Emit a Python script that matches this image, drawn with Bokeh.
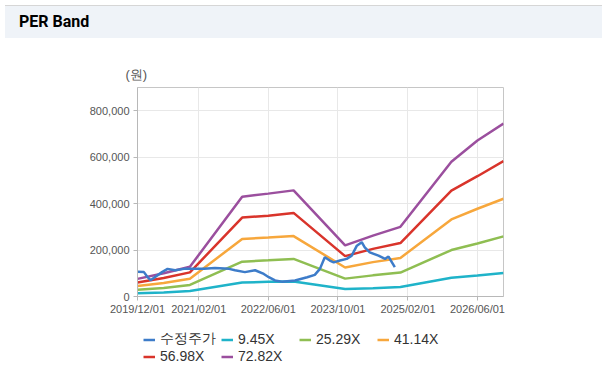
import pandas as pd
from bokeh.plotting import figure
from bokeh.models import (Div, Legend, LegendItem, FixedTicker,
                          NumeralTickFormatter, Range1d, Title)
from bokeh.layouts import column
from bokeh.embed import file_html
from bokeh.resources import INLINE

# ---------------- data ----------------
band_dates = ["2019-12-01", "2020-06-01", "2020-12-01", "2021-12-01", "2022-06-01",
              "2022-11-25", "2023-11-20", "2024-06-01", "2024-12-10", "2025-12-01",
              "2026-06-01", "2026-11-30"]
per_72_82 = [76000, 100000, 128000, 430000, 443000, 457000, 220000, 262000, 300000, 580000, 672000, 745000]
per_56_98 = [60000, 80000, 104000, 340000, 348000, 360000, 174000, 205000, 230000, 456000, 518000, 583000]
per_41_14 = [45000, 58000, 76000, 248000, 254000, 260000, 125000, 148000, 166000, 332000, 378000, 421000]
per_25_29 = [29000, 37000, 50000, 150000, 156000, 162000, 77000, 91000, 103000, 200000, 228000, 259000]
per_9_45 = [14000, 17000, 24000, 60000, 63000, 65000, 32000, 36000, 41000, 81000, 90000, 101000]

price_dates = ["2019-12-01", "2020-01-15", "2020-02-10", "2020-03-01", "2020-05-20", "2020-06-28",
               "2020-08-20", "2020-10-20", "2021-03-10", "2021-05-25", "2021-09-01", "2021-10-12",
               "2021-12-20", "2022-03-01", "2022-05-01", "2022-06-05", "2022-07-18", "2022-09-05",
               "2022-12-05", "2023-02-28", "2023-04-22", "2023-05-28", "2023-07-01", "2023-08-05",
               "2023-09-01", "2023-10-15", "2023-12-01", "2024-01-05", "2024-02-10", "2024-03-15",
               "2024-04-05", "2024-05-10", "2024-07-10", "2024-08-25", "2024-09-18", "2024-10-12",
               "2024-11-01"]
price_vals = [107000, 105000, 83000, 70000, 105000, 119000, 113000, 119000, 119000, 123000, 119000,
              113000, 105000, 113000, 97000, 83000, 69000, 64000, 69000, 83000, 93000, 119000,
              169000, 155000, 147000, 155000, 162000, 176000, 219000, 234000, 212000, 190000,
              176000, 162000, 172000, 147000, 126000]

series_names = ["수정주가", "9.45X", "25.29X", "41.14X", "56.98X", "72.82X"]
series_colors = ["#3d7cc9", "#1fb3c9", "#8fbe52", "#f7a73c", "#d9342b", "#9b4f9e"]

x_tick_labels = ["2019/12/01", "2021/02/01", "2022/06/01", "2023/10/01", "2025/02/01", "2026/06/01"]
y_ticks = [0, 200000, 400000, 600000, 800000]
y_unit = "(원)"
title_text = "PER Band"

x_start, x_end = "2019-12-01", "2026-11-30"
y_max = 900000


def ms(d):
    return pd.Timestamp(d).value / 1e6


# ---------------- main chart ----------------
p = figure(width=597, height=281, x_axis_type="datetime",
           output_backend="svg", toolbar_location=None,
           min_border_left=137, min_border_right=94, min_border_top=44, min_border_bottom=28,
           x_range=Range1d(ms(x_start), ms(x_end)), y_range=Range1d(0, y_max))
p.background_fill_color = "white"
p.border_fill_color = "white"
p.outline_line_color = "#c6c6c6"
p.outline_line_width = 1

# unit label, above the y axis
p.title = Title(text=y_unit, align="left", offset=-12, standoff=12, text_font_size="13px",
                text_font="Liberation Sans", text_font_style="normal", text_color="#555555")

bd = pd.to_datetime(band_dates)
pdts = pd.to_datetime(price_dates)
for vals, col in zip([per_9_45, per_25_29, per_41_14, per_56_98, per_72_82], series_colors[1:]):
    p.line(bd, vals, line_color=col, line_width=2.5)
p.line(pdts, price_vals, line_color=series_colors[0], line_width=2.5)

tick_ms = [ms(t.replace("/", "-")) for t in x_tick_labels]
p.xaxis.ticker = FixedTicker(ticks=tick_ms)
p.xaxis.major_label_overrides = {t: lab for t, lab in zip(tick_ms, x_tick_labels)}
p.yaxis.ticker = FixedTicker(ticks=y_ticks)
p.yaxis.formatter = NumeralTickFormatter(format="0,0")
for ax in (p.xaxis[0], p.yaxis[0]):
    ax.axis_line_color = "#b8b8b8"
    ax.major_tick_line_color = "#b8b8b8"
    ax.major_tick_out = 4
    ax.major_tick_in = 0
    ax.minor_tick_line_color = None
    ax.major_label_text_font = "Liberation Sans"
    ax.major_label_text_font_size = "11px"
    ax.major_label_text_color = "#555555"
p.xaxis.major_label_standoff = 2
p.yaxis.major_label_standoff = 4
p.xgrid.grid_line_color = "#e8e8e8"
p.ygrid.grid_line_color = "#e8e8e8"

# ---------------- legend strip ----------------
lg = figure(width=597, height=57, output_backend="svg", toolbar_location=None,
            x_axis_location=None, y_axis_location=None,
            min_border_left=0, min_border_right=0, min_border_top=0, min_border_bottom=0,
            x_range=Range1d(0, 1), y_range=Range1d(0, 1))
lg.grid.visible = False
lg.outline_line_color = None
lg.background_fill_color = "white"
lg.border_fill_color = "white"
nan = float("nan")
leg_renderers = [lg.line(x=[nan, nan], y=[nan, nan], line_color=c, line_width=2.5)
                 for c in series_colors]
items = [LegendItem(label=n, renderers=[r]) for n, r in zip(series_names, leg_renderers)]
legend = Legend(items=items, location=(6, 17), orientation="horizontal", ncols=4,
                border_line_color=None, background_fill_alpha=0, padding=0, margin=0,
                spacing=0, glyph_width=12, glyph_height=13, label_height=13, label_width=61,
                label_standoff=5, label_text_font_size="14px", label_text_font="Liberation Sans",
                label_text_color="#333333")
lg.add_layout(legend, "center")

header = Div(text=f'<div style="box-sizing:border-box;width:597px;height:33px;background:#eff3f8;'
                  f'border-top:1px solid #d6d6d6;padding-left:14px;line-height:31px;'
                  f'font-family:Roboto, Liberation Sans, sans-serif;font-weight:bold;font-size:16px;color:#000;">'
                  f'{title_text}</div>', width=597, height=33)
bottom = Div(text='<div style="width:597px;height:1px;background:#cfcfcf;"></div>', width=597, height=1)

layout = column(header, p, lg, bottom, spacing=0)
open("out.html", "w").write(file_html(layout, INLINE))
